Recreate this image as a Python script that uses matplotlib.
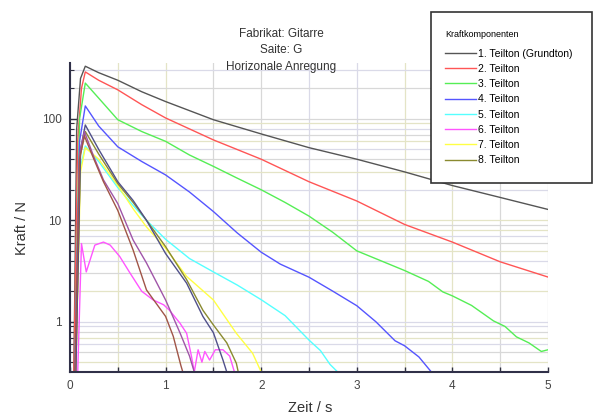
import numpy as np
import matplotlib
matplotlib.use("Agg")
import matplotlib.pyplot as plt
from matplotlib.ticker import MultipleLocator, LogLocator, NullFormatter
from matplotlib.patches import Rectangle

plt.rcParams['font.family'] = ['Liberation Sans', 'DejaVu Sans']

# Teiltoene: Zeit (s) und Kraft (N)
t1 = [0.04, 0.07, 0.11, 0.16, 0.3, 0.5, 0.75, 1.0, 1.5, 2.0, 2.5, 3.0, 3.5, 4.0, 4.5, 5.0]
f1 = [0.3, 80, 250, 330, 285, 240, 185, 148, 98, 71, 52, 40, 30, 22, 16.8, 12.8]

t2 = [0.04, 0.08, 0.12, 0.16, 0.3, 0.5, 0.75, 1.0, 1.5, 2.0, 2.5, 3.0, 3.5, 4.0, 4.5, 5.0]
f2 = [0.3, 60, 200, 290, 240, 193, 138, 102, 62, 40, 24, 15.5, 9.1, 6.1, 3.9, 2.76]

t3 = [0.05, 0.1, 0.16, 0.3, 0.5, 0.75, 1.0, 1.25, 1.5, 1.75, 2.0, 2.25, 2.5, 2.75, 3.0,
      3.25, 3.5, 3.75, 3.9, 4.0, 4.2, 4.43, 4.55, 4.67, 4.8, 4.93, 5.0]
f3 = [0.3, 100, 225, 160, 98, 75, 60, 44, 34, 26, 20, 15, 11, 7.6, 5.0,
      4.0, 3.2, 2.5, 1.97, 1.8, 1.45, 1.02, 0.9, 0.71, 0.62, 0.51, 0.53]

t4 = [0.05, 0.1, 0.16, 0.3, 0.5, 0.75, 1.0, 1.25, 1.5, 1.75, 2.0, 2.2, 2.5, 2.75, 3.0,
      3.2, 3.4, 3.5, 3.65, 3.78]
f4 = [0.3, 60, 134, 85, 53, 38, 28, 19, 12.2, 7.5, 4.85, 3.7, 2.75, 2.0, 1.44,
      1.0, 0.65, 0.58, 0.45, 0.32]

t5 = [0.05, 0.1, 0.16, 0.3, 0.5, 0.66, 0.8, 1.0, 1.25, 1.5, 1.75, 2.0, 2.25, 2.5,
      2.62, 2.72, 2.8]
f5 = [0.3, 30, 54, 38, 21, 14, 10, 6.5, 4.2, 3.1, 2.3, 1.65, 1.15, 0.66, 0.52, 0.38, 0.32]

t6 = [0.08, 0.12, 0.17, 0.26, 0.35, 0.42, 0.52, 0.63, 0.75, 0.87, 0.98, 1.04, 1.15,
      1.22, 1.27, 1.3, 1.34, 1.38, 1.41, 1.46, 1.52, 1.6, 1.67, 1.72]
f6 = [0.3, 5.9, 3.1, 5.7, 6.1, 5.7, 4.4, 3.0, 2.0, 1.64, 1.47, 1.3, 0.97,
      0.77, 0.46, 0.32, 0.53, 0.4, 0.51, 0.42, 0.53, 0.53, 0.46, 0.32]

t7 = [0.06, 0.11, 0.16, 0.3, 0.5, 0.66, 0.8, 1.0, 1.22, 1.5, 1.74, 1.91, 2.0]
f7 = [0.3, 30, 52, 40, 22, 13, 8.6, 5.3, 2.8, 1.64, 0.77, 0.49, 0.32]

t8 = [0.06, 0.11, 0.16, 0.3, 0.5, 0.66, 0.8, 1.0, 1.22, 1.39, 1.5, 1.64, 1.74, 1.76]
f8 = [0.3, 45, 75, 45, 23, 15, 10, 5.5, 2.6, 1.3, 0.93, 0.62, 0.39, 0.32]

# weitere Teiltoene ohne Legendeneintrag
t9 = [0.06, 0.11, 0.16, 0.3, 0.5, 0.66, 0.8, 1.0, 1.22, 1.39, 1.5, 1.6, 1.64]
f9 = [0.3, 50, 87, 50, 24, 15.7, 10, 4.7, 2.4, 1.13, 0.78, 0.42, 0.32]

t10 = [0.05, 0.1, 0.15, 0.25, 0.35, 0.5, 0.66, 0.8, 1.0, 1.15, 1.25, 1.3]
f10 = [0.3, 45, 75, 42, 25, 14.6, 6.4, 3.8, 1.64, 0.78, 0.46, 0.32]

t11 = [0.05, 0.1, 0.15, 0.25, 0.35, 0.5, 0.66, 0.8, 1.0, 1.08, 1.16, 1.18]
f11 = [0.3, 40, 68, 40, 24, 12.5, 5.1, 2.06, 1.13, 0.72, 0.37, 0.32]

labels = ['1. Teilton (Grundton)', '2. Teilton', '3. Teilton', '4. Teilton',
          '5. Teilton', '6. Teilton', '7. Teilton', '8. Teilton']
series = [(t1, f1), (t2, f2), (t3, f3), (t4, f4), (t5, f5), (t6, f6), (t7, f7), (t8, f8)]
extra = [(t9, f9), (t10, f10), (t11, f11)]
colors = ['#555555', '#ff5555', '#55ee55', '#5555ff', '#55ffff', '#ff55ff', '#ffff44', '#8a8a30']
extra_colors = ['#50508a', '#a055a8', '#a05548']

fig = plt.figure(figsize=(5.97, 4.16), dpi=100)
ax = fig.add_axes([70/597, 1-372/416, 478/597, 309/416])

for (t, f), c, lab in zip(series, colors, labels):
    ax.plot(t, f, color=c, lw=1.0, label=lab)
for (t, f), c in zip(extra, extra_colors):
    ax.plot(t, f, color=c, lw=1.0)

ax.set_yscale('log')
ax.set_ylim(0.32, 355)
ax.set_xlim(0, 5)
ax.set_yticks([1, 10, 100], ['1', '10', '100'])
ax.yaxis.set_minor_locator(LogLocator(base=10, subs=np.arange(2, 10)))
ax.yaxis.set_minor_formatter(NullFormatter())
ax.set_xticks([0, 1, 2, 3, 4, 5], ['0', '1', '2', '3', '4', '5'])
ax.xaxis.set_minor_locator(MultipleLocator(0.5))

ax.tick_params(which='both', direction='in', colors='#303040', labelcolor='#444444',
               labelsize=8.5)
ax.tick_params(axis='y', which='major', length=5, width=1, pad=6)
ax.tick_params(axis='y', which='minor', length=3, width=0.8)
ax.tick_params(axis='x', which='both', length=3.5, width=1, pad=6)

ax.spines['top'].set_visible(False)
ax.spines['right'].set_visible(False)
for s in ['left', 'bottom']:
    ax.spines[s].set_color('#303048')
    ax.spines[s].set_linewidth(1.5)

ax.grid(True, which='both', linewidth=0.9)
grid_cols = ['#dadae8', '#e4e4c6', '#d8d8d8']
for i, tk in enumerate(ax.xaxis.get_major_ticks() + ax.xaxis.get_minor_ticks()):
    tk.gridline.set_color(grid_cols[i % 3])
for i, tk in enumerate(ax.yaxis.get_major_ticks() + ax.yaxis.get_minor_ticks()):
    tk.gridline.set_color(grid_cols[i % 3])
ax.set_axisbelow(True)

fig.text(22/597, 1-228/416, 'Kraft / N', rotation=90, ha='center', va='center',
         fontsize=10.5, color='#333333')
fig.text(310/597, 1-408/416, 'Zeit / s', ha='center', va='center',
         fontsize=10.5, color='#333333')

for txt, y in [('Fabrikat: Gitarre', 34), ('Saite: G', 50), ('Horizonale Anregung', 67)]:
    fig.text(281/597, 1-y/416, txt, ha='center', va='center', fontsize=8.5, color='#333333')

box = Rectangle((431/597, 1-183/416), 161/597, 171/416, transform=fig.transFigure,
                facecolor='white', edgecolor='#333333', linewidth=1.2, zorder=3)
fig.add_artist(box)

leg = fig.legend(loc='upper left', bbox_to_anchor=(445/597, 1-30/416), frameon=False,
                 title='Kraftkomponenten', title_fontsize=6.5, fontsize=7.5,
                 handlelength=3.0, handletextpad=0.15, labelspacing=0.5,
                 borderpad=0, borderaxespad=0, alignment='left')
leg._legend_box.sep = 7
leg.set_zorder(4)

fig.savefig('out.png', dpi=100)
